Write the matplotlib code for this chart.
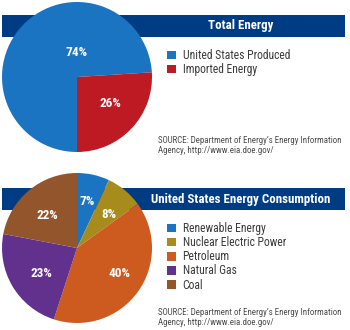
import matplotlib
matplotlib.use("Agg")
import matplotlib.pyplot as plt

# data
total_labels = ["United States Produced", "Imported Energy"]
total_values = [74, 26]
total_colors = ["#1a74c2", "#be1a23"]

cons_labels = ["Renewable Energy", "Nuclear Electric Power", "Petroleum", "Natural Gas", "Coal"]
cons_values = [7, 8, 40, 23, 22]
cons_colors = ["#1a74c2", "#a88b1d", "#cd5b1f", "#62308d", "#93552b"]

source = "SOURCE: Department of Energy\u2019s Energy Information\nAgency, http://www.eia.doe.gov/"
navy = "#003c84"

plt.rcParams["font.family"] = ["Roboto Condensed", "Liberation Sans", "DejaVu Sans"]

W, H = 350, 330
fig = plt.figure(figsize=(W / 100, H / 100), dpi=100)


def fx(x):
    return x / W


def fy(y):
    return 1 - y / H


def panel(title, values, labels, colors, cy, startangle, lab_pos, banner_y, leg_y, src_y):
    # banner behind the pie
    bax = fig.add_axes([fx(2), fy(banner_y + 22), fx(343), 22 / H], zorder=0)
    bax.set_facecolor(navy)
    bax.set_xticks([])
    bax.set_yticks([])
    for s in bax.spines.values():
        s.set_visible(False)
    fig.text(fx(241), fy(banner_y + 11), title, color="white", fontsize=9.3,
             fontweight="bold", ha="center", va="center", zorder=3)

    r = 75
    ax = fig.add_axes([fx(77 - r), fy(cy + r), fx(2 * r), 2 * r / H], zorder=1)
    wedges, _ = ax.pie(values, colors=colors, startangle=startangle,
                       counterclock=False, wedgeprops=dict(linewidth=0))
    ax.set_xlim(-1, 1)
    ax.set_ylim(-1, 1)
    ax.set_aspect("equal")
    for v, (px, py) in zip(values, lab_pos):
        ax.text(px, py, f"{v}%", color="white", fontsize=9.5, fontweight="bold",
                ha="center", va="center")

    fig.legend(wedges, labels, loc="upper left", bbox_to_anchor=(fx(167), fy(leg_y)),
               frameon=False, fontsize=8.4, handlelength=0.78, handleheight=0.78,
               handletextpad=0.55, labelspacing=0.1, borderpad=0, borderaxespad=0,
               labelcolor="#3a3a3a")
    fig.text(fx(158), fy(src_y), source, fontsize=6.4, color="#4a4a4a",
             ha="left", va="top", linespacing=1.15)


panel("Total Energy", total_values, total_labels, total_colors, 77, -90,
      [(0.0, 0.33), (0.45, -0.35)], 15, 49, 136)
panel("United States Energy Consumption", cons_values, cons_labels, cons_colors, 248, 90,
      [(0.14, 0.62), (0.43, 0.45), (0.57, -0.34), (-0.47, -0.34), (-0.39, 0.43)],
      188, 222, 308)

fig.savefig("out.png", dpi=100)
